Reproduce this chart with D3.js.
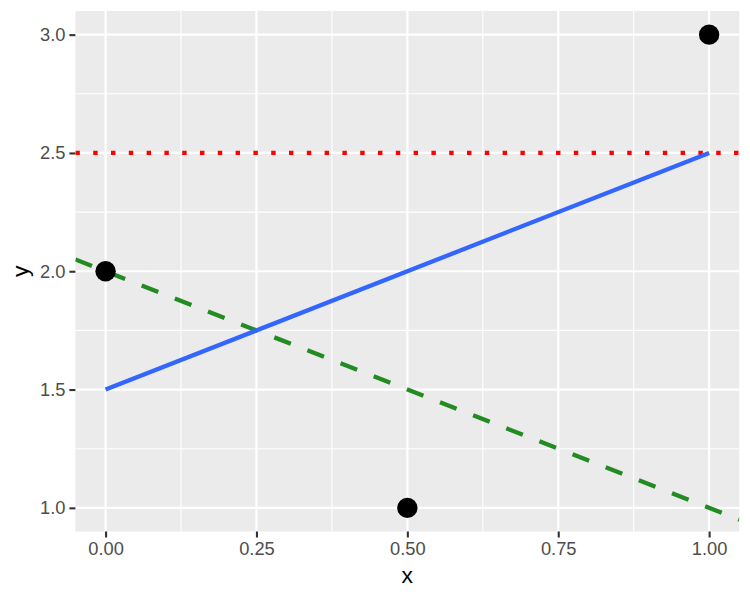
<!DOCTYPE html>
<html><head><meta charset="utf-8">
<script src="https://cdn.jsdelivr.net/npm/d3@7"></script>
<style>body{margin:0;background:#fff}svg{display:block}text{font-family:"Liberation Sans",Arial,sans-serif}</style>
</head><body><svg id="c" width="750" height="600"></svg>
<script>
const pointsX = [0, 0.5, 1];
const pointsY = [2, 1, 3];
const fitX = [0, 1];
const fitY = [1.5, 2.5];
const hlineY = 2.5;
const ablineIntercept = 2, ablineSlope = -1;
const xTicks = [0, 0.25, 0.5, 0.75, 1];
const yTicks = [1, 1.5, 2, 2.5, 3];
const xMinor = [0.125, 0.375, 0.625, 0.875];
const yMinor = [1.25, 1.75, 2.25, 2.75];

const svg = d3.select("#c");
const L = 75.4, R = 739.3, T = 11, B = 531.5;
const x = d3.scaleLinear().domain([-0.05, 1.05]).range([L, R]);
const y = d3.scaleLinear().domain([0.9, 3.1]).range([B, T]);

svg.append("rect").attr("x", L).attr("y", T).attr("width", R - L).attr("height", B - T).attr("fill", "#ebebeb");
svg.append("defs").append("clipPath").attr("id", "clip").append("rect").attr("x", L).attr("y", T).attr("width", R - L).attr("height", B - T);

const grid = svg.append("g");
xMinor.forEach(v => grid.append("line").attr("x1", x(v)).attr("x2", x(v)).attr("y1", T).attr("y2", B).attr("stroke", "#fff").attr("stroke-width", 1.1));
yMinor.forEach(v => grid.append("line").attr("y1", y(v)).attr("y2", y(v)).attr("x1", L).attr("x2", R).attr("stroke", "#fff").attr("stroke-width", 1.1));
xTicks.forEach(v => grid.append("line").attr("x1", x(v)).attr("x2", x(v)).attr("y1", T).attr("y2", B).attr("stroke", "#fff").attr("stroke-width", 2.2));
yTicks.forEach(v => grid.append("line").attr("y1", y(v)).attr("y2", y(v)).attr("x1", L).attr("x2", R).attr("stroke", "#fff").attr("stroke-width", 2.2));

const plot = svg.append("g").attr("clip-path", "url(#clip)");
const line = d3.line().x(d => x(d[0])).y(d => y(d[1]));
const ax = [-0.05, 1.05];
plot.append("path").attr("d", line(ax.map(v => [v, ablineIntercept + ablineSlope * v])))
  .attr("fill", "none").attr("stroke", "#228b22").attr("stroke-width", 4.3).attr("stroke-dasharray", "17.8 17.8");
plot.append("path").attr("d", line(ax.map(v => [v, hlineY])))
  .attr("fill", "none").attr("stroke", "#ff0000").attr("stroke-width", 4.3).attr("stroke-dasharray", "4.45 13.35");
plot.append("path").attr("d", line(fitX.map((v, i) => [v, fitY[i]])))
  .attr("fill", "none").attr("stroke", "#3366ff").attr("stroke-width", 4.3);
plot.selectAll("circle").data(pointsX).join("circle")
  .attr("cx", d => x(d)).attr("cy", (d, i) => y(pointsY[i])).attr("r", 10.2).attr("fill", "#000");

const xAxis = d3.axisBottom(x).tickValues(xTicks).tickFormat(d3.format(".2f")).tickSize(6).tickPadding(5);
const yAxis = d3.axisLeft(y).tickValues(yTicks).tickFormat(d3.format(".1f")).tickSize(6).tickPadding(4);
const gx = svg.append("g").attr("transform", `translate(0,${B})`).call(xAxis);
const gy = svg.append("g").attr("transform", `translate(${L},0)`).call(yAxis);
[gx, gy].forEach(g => {
  g.attr("font-family", null).attr("font-size", null);
  g.select(".domain").remove();
  g.selectAll(".tick line").attr("stroke", "#333").attr("stroke-width", 2.1);
  g.selectAll(".tick text").attr("fill", "#4d4d4d").style("font-size", "18.3px");
});

svg.append("text").attr("x", (L + R) / 2).attr("y", 583.3).attr("text-anchor", "middle")
  .style("font-size", "22.9px").attr("fill", "#000").text("x");
svg.append("text").attr("transform", `translate(28,${(T + B) / 2}) rotate(-90)`).attr("text-anchor", "middle")
  .style("font-size", "22.9px").attr("fill", "#000").text("y");
</script></body></html>
